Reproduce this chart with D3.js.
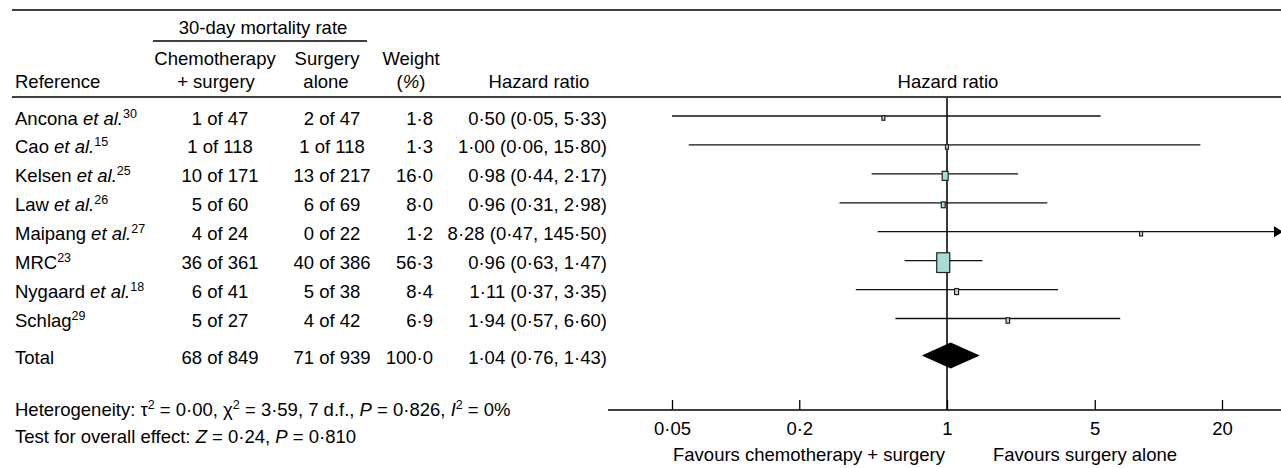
<!DOCTYPE html>
<html>
<head>
<meta charset="utf-8">
<script src="https://cdn.jsdelivr.net/npm/d3@7"></script>
<style>
body { margin: 0; background: #fff; }
svg text { font-family: "Liberation Sans", Arial, sans-serif; font-size: 18.5px; fill: #000; }
</style>
</head>
<body>
<script>
// study rows
var studies = ["Ancona", "Cao", "Kelsen", "Law", "Maipang", "MRC", "Nygaard", "Schlag"];
var etAl = [true, true, true, true, true, false, true, false];
var refs = ["30", "15", "25", "26", "27", "23", "18", "29"];
var chemoEvents = [1, 1, 10, 5, 4, 36, 6, 5];
var chemoTotals = [47, 118, 171, 60, 24, 361, 41, 27];
var surgEvents = [2, 1, 13, 6, 0, 40, 5, 4];
var surgTotals = [47, 118, 217, 69, 22, 386, 38, 42];
var weights = [1.8, 1.3, 16.0, 8.0, 1.2, 56.3, 8.4, 6.9];
var hr = [0.50, 1.00, 0.98, 0.96, 8.28, 0.96, 1.11, 1.94];
var hrLow = [0.05, 0.06, 0.44, 0.31, 0.47, 0.63, 0.37, 0.57];
var hrHigh = [5.33, 15.80, 2.17, 2.98, 145.50, 1.47, 3.35, 6.60];

// pooled row
var totalEvents = [68, 71];
var totalPatients = [849, 939];
var totalWeight = [100.0];
var totalHr = [1.04, 0.76, 1.43];

var axisTicks = [0.05, 0.2, 1, 5, 20];

var w = 1281, h = 468;

var svg = d3.select("body").append("svg")
  .attr("width", w)
  .attr("height", h);

var x = d3.scaleLog().domain([0.05, 20]).range([672, 1222]);
var y = d3.scaleLinear().domain([0, studies.length - 1]).range([116, 318.5]);
var yTotal = 357, yAxis = 410;

function dot(v, n) {
  return v.toFixed(n).replace(".", "\u00b7");
}

// parts: [text, "i" | "sup" | ""]
function addRich(x0, y0, parts, anchor) {
  var t = svg.append("text")
    .attr("x", x0)
    .attr("y", y0)
    .attr("text-anchor", anchor || "start");
  var up = false;
  parts.forEach(function(p) {
    var s = t.append("tspan").text(p[0]);
    if (p[1] == "sup") {
      s.attr("dy", -7).style("font-size", "12.5px");
      up = true;
    } else {
      if (up) { s.attr("dy", 7); up = false; }
      if (p[1] == "i") s.style("font-style", "italic");
    }
  });
  return t;
}

function addText(x0, y0, txt, anchor) {
  return svg.append("text")
    .attr("x", x0)
    .attr("y", y0)
    .attr("text-anchor", anchor || "start")
    .text(txt);
}

function hline(x1, x2, yy, width) {
  svg.append("line")
    .attr("x1", x1).attr("x2", x2)
    .attr("y1", yy).attr("y2", yy)
    .attr("stroke", "#000")
    .attr("stroke-width", width || 1);
}

// header
hline(12, w, 10, 1.5);
addText(263, 34, "30-day mortality rate", "middle");
hline(153, 367, 41, 1.5);
addText(215, 65, "Chemotherapy", "middle");
addText(216, 88, "+ surgery", "middle");
addText(327, 65, "Surgery", "middle");
addText(326, 88, "alone", "middle");
addText(411, 65, "Weight", "middle");
addRich(411, 88, [["(", ""], ["%", "i"], [")", ""]], "middle");
addText(15, 88, "Reference");
addText(539, 88, "Hazard ratio", "middle");
addText(948, 88, "Hazard ratio", "middle");
hline(12, w, 97, 1.5);

// table rows
studies.forEach(function(s, i) {
  var yy = y(i) + 8.5;
  var parts = [[s, ""]];
  if (etAl[i]) parts = [[s + " ", ""], ["et al.", "i"]];
  parts.push([refs[i], "sup"]);
  addRich(15, yy, parts);
  addText(220, yy, chemoEvents[i] + " of " + chemoTotals[i], "middle");
  addText(332, yy, surgEvents[i] + " of " + surgTotals[i], "middle");
  addText(433, yy, dot(weights[i], 1), "end");
  addText(607, yy, dot(hr[i], 2) + " (" + dot(hrLow[i], 2) + ", " + dot(hrHigh[i], 2) + ")", "end");
});

addText(15, yTotal + 6.5, "Total");
addText(220, yTotal + 6.5, totalEvents[0] + " of " + totalPatients[0], "middle");
addText(332, yTotal + 6.5, totalEvents[1] + " of " + totalPatients[1], "middle");
addText(433, yTotal + 6.5, dot(totalWeight[0], 1), "end");
addText(607, yTotal + 6.5, dot(totalHr[0], 2) + " (" + dot(totalHr[1], 2) + ", " + dot(totalHr[2], 2) + ")", "end");

// footer
addRich(15, 416, [["Heterogeneity: \u03c4", ""], ["2", "sup"], [" = 0\u00b700, \u03c7", ""], ["2", "sup"],
  [" = 3\u00b759, 7 d.f., ", ""], ["P", "i"], [" = 0\u00b7826, ", ""], ["I", "i"], ["2", "sup"], [" = 0%", ""]]);
addRich(15, 443, [["Test for overall effect: ", ""], ["Z", "i"], [" = 0\u00b724, ", ""], ["P", "i"], [" = 0\u00b7810", ""]]);

// line of no effect
svg.append("line")
  .attr("x1", x(1)).attr("x2", x(1))
  .attr("y1", 97).attr("y2", yAxis)
  .attr("stroke", "#3a3a3a")
  .attr("stroke-width", 2);

// confidence intervals
var xMax = w - 1;
studies.forEach(function(s, i) {
  var x2 = Math.min(x(hrHigh[i]), xMax);
  svg.append("line")
    .attr("x1", x(hrLow[i])).attr("x2", x2)
    .attr("y1", y(i)).attr("y2", y(i))
    .attr("stroke", "#111")
    .attr("stroke-width", 1.3);
  if (x(hrHigh[i]) > xMax) {
    svg.append("path")
      .attr("d", "M" + (xMax - 6) + "," + (y(i) - 5.5) + "L" + (xMax + 3) + "," + y(i) + "L" + (xMax - 6) + "," + (y(i) + 5.5) + "Z")
      .attr("fill", "#000");
  }
});

// weighted boxes
studies.forEach(function(s, i) {
  var bh = Math.max(4.5, 1.62 * Math.pow(weights[i], 0.62));
  var bw = Math.max(3, bh * 0.66);
  svg.append("rect")
    .attr("x", x(hr[i]) - bw / 2)
    .attr("y", y(i) + 2 - bh / 2)
    .attr("width", bw)
    .attr("height", bh)
    .attr("fill", "#a9dcd9")
    .attr("stroke", "#222")
    .attr("stroke-width", 1.2);
});

// pooled diamond
svg.append("path")
  .attr("d", "M" + x(totalHr[1]) + "," + (yTotal - 1.5) +
    "L" + x(totalHr[0]) + "," + (yTotal - 14.5) +
    "L" + x(totalHr[2]) + "," + (yTotal - 1.5) +
    "L" + x(totalHr[0]) + "," + (yTotal + 11.5) + "Z")
  .attr("fill", "#000");

// axis
hline(608, w, yAxis, 1.5);
var axis = svg.append("g")
  .attr("transform", "translate(0," + yAxis + ")")
  .call(d3.axisBottom(x)
    .tickValues(axisTicks)
    .tickSizeInner(-10)
    .tickSizeOuter(0)
    .tickPadding(12)
    .tickFormat(function(d) { return String(d).replace(".", "\u00b7"); }));
axis.select(".domain").remove();
axis.selectAll(".tick line").attr("stroke", "#000").attr("stroke-width", 1.3);
axis.selectAll(".tick text")
  .style("font-family", "\"Liberation Sans\", Arial, sans-serif")
  .style("font-size", "18.5px")
  .attr("fill", "#000");

addText(945, 461, "Favours chemotherapy + surgery", "end");
addText(993, 461, "Favours surgery alone");
</script>
</body>
</html>
